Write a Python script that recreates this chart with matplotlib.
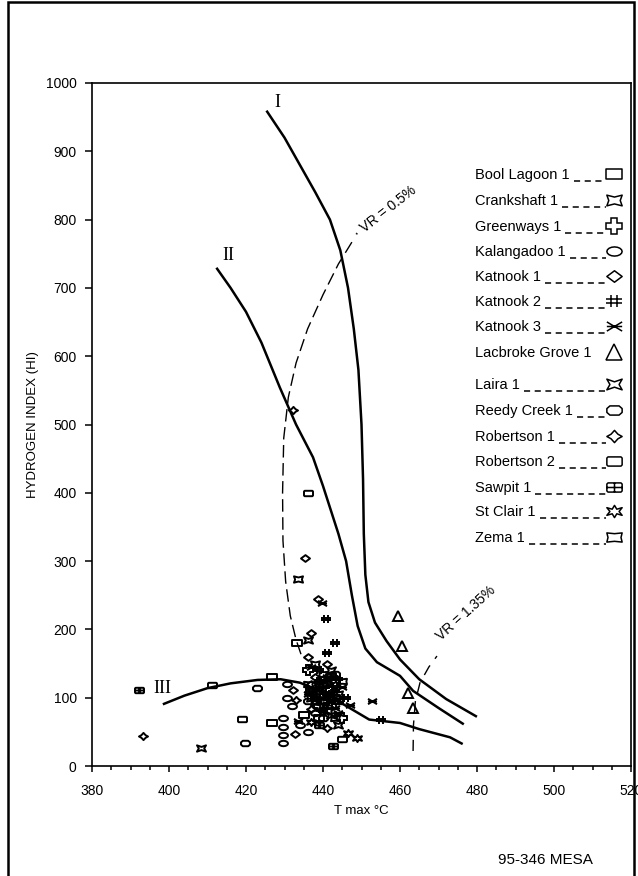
import math
import matplotlib.pyplot as plt
from matplotlib.path import Path
from matplotlib.patches import Rectangle
from matplotlib.lines import Line2D
from matplotlib.ticker import MultipleLocator

plt.rcParams['font.family'] = ['Liberation Sans', 'DejaVu Sans']

# ---- well data (T max degC, HI) ----
bool_t = [426.8, 426.8, 433.2, 437.0, 440.0, 442.0, 435.0, 441.0, 443.0, 439.0]
bool_hi = [130, 63, 180, 110, 95, 130, 75, 112, 100, 70]
crank_t = [433.5, 438.0, 441.0, 444.0, 440.0, 437.0]
crank_hi = [274, 150, 122, 105, 128, 100]
green_t = [436.0, 439.0, 442.0, 445.0, 443.0]
green_hi = [140, 88, 112, 70, 125]
kalan_t = [429.6, 429.6, 429.6, 429.6, 430.6, 430.6, 432.0, 434.0, 436.0, 438.0]
kalan_hi = [70, 57, 45, 34, 120, 100, 88, 60, 50, 78]
kat1_t = [432.2, 432.7, 435.3, 438.7, 437.0, 436.0, 441.0, 443.0, 438.0, 440.0, 442.0, 437.0]
kat1_hi = [111, 47, 305, 245, 195, 160, 150, 118, 130, 118, 100, 120]
kat2_t = [455.0, 440.8, 443.0, 441.0, 439.0, 444.0, 446.0, 437.0, 439.0, 441.0, 442.0,
          440.0, 443.0, 438.0]
kat2_hi = [67, 215, 180, 165, 140, 128, 100, 110, 125, 105, 95, 80, 110, 100]
kat3_t = [433.5, 439.7, 452.7, 437.0, 440.0, 443.0, 445.0, 447.0, 441.0, 439.0, 444.0, 436.0]
kat3_hi = [66, 239, 95, 145, 100, 85, 115, 90, 130, 115, 78, 105]
ladb_t = [459.5, 460.5, 462.0, 463.4]
ladb_hi = [220, 176, 107, 85]
laira_t = [408.3, 436.0, 439.0, 442.0, 444.0, 440.0, 442.0]
laira_hi = [26, 185, 120, 75, 60, 90, 140]
reedy_t = [419.7, 422.9, 436.0, 440.0, 443.0]
reedy_hi = [34, 114, 95, 70, 135]
rob1_t = [393.2, 432.2, 433.0, 437.0, 441.0]
rob1_hi = [44, 521, 97, 84, 55]
rob2_t = [411.2, 419.0, 436.1, 438.0, 442.0, 445.0, 440.0]
rob2_hi = [119, 69, 399, 105, 90, 40, 118]
sawpit_t = [392.2, 442.6, 439.0, 444.0, 441.0]
sawpit_hi = [111, 29, 60, 95, 90]
stclair_t = [446.5, 448.8, 437.0, 441.0, 439.0]
stclair_hi = [48, 41, 65, 100, 108]
zema_t = [436.0, 440.0, 443.0, 445.0, 438.0, 441.0]
zema_hi = [120, 135, 70, 125, 93, 80]

# ---- kerogen type curves and vitrinite reflectance lines ----
c1_t = [425.5, 430, 434, 438, 441.8, 444.5, 446.5, 448, 449.2, 450, 450.4, 450.6,
        451, 451.8, 453.5, 456.5, 460, 465, 472, 479.7]
c1_hi = [958, 920, 880, 840, 800, 755, 700, 640, 580, 500, 420, 340,
         280, 240, 210, 183, 156, 127, 98, 73]
c2_t = [412.5, 416, 420, 424, 428.8, 433, 437.4, 440, 442, 444, 446,
        447.5, 449, 451, 454, 460, 463.4, 470, 476.3]
c2_hi = [728, 700, 665, 620, 554, 500, 452, 410, 375, 340, 300,
         250, 205, 172, 152, 132, 110, 85, 62]
c3_t = [398.7, 404, 410, 416, 423, 429, 434, 440, 446, 452, 460, 465, 473, 476]
c3_hi = [91, 103, 114, 121, 126, 127, 122, 108, 88, 68, 63, 54, 42, 33]
vr05_t = [447.5, 444, 440, 436, 433, 431, 429.8, 429.5, 429.6, 430.3, 431.5, 433, 434.5]
vr05_hi = [767, 735, 690, 640, 590, 540, 480, 400, 330, 270, 220, 185, 160]
vr135_t = [463.4, 463.5, 464, 465.2, 467.5, 469.6]
vr135_hi = [22, 60, 95, 122, 145, 161]

names = ['Bool Lagoon 1', 'Crankshaft 1', 'Greenways 1', 'Kalangadoo 1', 'Katnook 1',
         'Katnook 2', 'Katnook 3', 'Lacbroke Grove 1', 'Laira 1', 'Reedy Creek 1',
         'Robertson 1', 'Robertson 2', 'Sawpit 1', 'St Clair 1', 'Zema 1']
legend_y = [175, 201, 227, 252, 277, 302, 327, 353, 385, 411, 437, 462, 488, 512, 538]


def closed(pts):
    return Path(pts + [pts[0]], [Path.MOVETO] + [Path.LINETO] * (len(pts) - 1) + [Path.CLOSEPOLY])


def segs(lines):
    v, c = [], []
    for ln in lines:
        v += ln
        c += [Path.MOVETO] + [Path.LINETO] * (len(ln) - 1)
    return Path(v, c)


rrect = [(-1, .45), (-.85, .6), (.85, .6), (1, .45), (1, -.45), (.85, -.6), (-.85, -.6), (-1, -.45)]
ellipse = [(math.cos(a / 16 * 2 * math.pi), 0.6 * math.sin(a / 16 * 2 * math.pi)) for a in range(16)]

markers = [
    closed([(-1, -.7), (1, -.7), (1, .7), (-1, .7)]),
    closed([(-1, .7), (0, .45), (1, .7), (.75, 0), (1, -.7), (0, -.45), (-1, -.7), (-.75, 0)]),
    'P',
    closed(ellipse),
    closed([(0, .75), (1, 0), (0, -.75), (-1, 0)]),
    segs([[(-1, .3), (1, .3)], [(-1, -.3), (1, -.3)], [(-.35, .8), (-.35, -.8)], [(.35, .8), (.35, -.8)]]),
    segs([[(-1, .6), (1, -.6)], [(-1, -.6), (1, .6)], [(-1, 0), (1, 0)]]),
    '^',
    closed([(-1, .7), (0, .35), (1, .7), (.6, 0), (1, -.7), (0, -.35), (-1, -.7), (-.6, 0)]),
    closed([(-1, .25), (-.6, .6), (.6, .6), (1, .25), (1, -.25), (.6, -.6), (-.6, -.6), (-1, -.25)]),
    closed([(0, .8), (.45, .3), (1, 0), (.45, -.3), (0, -.8), (-.45, -.3), (-1, 0), (-.45, .3)]),
    closed(rrect),
    Path(rrect + [rrect[0], (0, .6), (0, -.6), (-1, 0), (1, 0)],
         [Path.MOVETO] + [Path.LINETO] * 7 + [Path.CLOSEPOLY, Path.MOVETO, Path.LINETO, Path.MOVETO, Path.LINETO]),
    closed([(0, .8), (.3, .3), (1, .5), (.6, 0), (1, -.5), (.3, -.3), (0, -.8), (-.3, -.3), (-1, -.5), (-.6, 0), (-1, .5), (-.3, .3)]),
    closed([(-1, .6), (0, .5), (1, .6), (.85, 0), (1, -.6), (0, -.5), (-1, -.6), (-.85, 0)]),
]

series = [(bool_t, bool_hi), (crank_t, crank_hi), (green_t, green_hi), (kalan_t, kalan_hi),
          (kat1_t, kat1_hi), (kat2_t, kat2_hi), (kat3_t, kat3_hi), (ladb_t, ladb_hi),
          (laira_t, laira_hi), (reedy_t, reedy_hi), (rob1_t, rob1_hi), (rob2_t, rob2_hi),
          (sawpit_t, sawpit_hi), (stclair_t, stclair_hi), (zema_t, zema_hi)]

W, H = 638, 876
fig = plt.figure(figsize=(W / 100, H / 100), dpi=100)
ax = fig.add_axes([92 / W, 1 - 766 / H, (631 - 92) / W, (766 - 83) / H])

for (t, hi), m in zip(series, markers):
    ax.plot(t, hi, ls='none', marker=m, ms=6.5, mfc='none', mec='black', mew=1.4)

ax.plot(c1_t, c1_hi, color='black', lw=1.8)
ax.plot(c2_t, c2_hi, color='black', lw=1.8)
ax.plot(c3_t, c3_hi, color='black', lw=1.8)
ax.plot(vr05_t, vr05_hi, color='black', lw=1.0, ls=(0, (9, 4)))
ax.plot(vr135_t, vr135_hi, color='black', lw=1.0, ls=(0, (8, 6)))

ax.text(428.2, 972, 'I', family='Liberation Serif', fontsize=13, ha='center', va='center')
ax.text(415.5, 748, 'II', family='Liberation Serif', fontsize=13, ha='center', va='center')
ax.text(398.2, 113, 'III', family='Liberation Serif', fontsize=13, ha='center', va='center')
ax.text(449.5, 770, '· VR = 0.5%', fontsize=10, rotation=38, rotation_mode='anchor',
        ha='left', va='bottom')
ax.text(471.3, 180, 'VR = 1.35%', fontsize=10, rotation=42, rotation_mode='anchor',
        ha='left', va='bottom')

ax.set_xlim(380, 520)
ax.set_ylim(0, 1000)
ax.xaxis.set_major_locator(MultipleLocator(20))
ax.xaxis.set_minor_locator(MultipleLocator(5))
ax.yaxis.set_major_locator(MultipleLocator(100))
ax.tick_params(axis='x', which='major', direction='out', length=4, width=1.1, pad=9, labelsize=10)
ax.tick_params(axis='x', which='minor', direction='out', length=3, width=1.1)
ax.tick_params(axis='y', direction='out', length=5, width=1.1, pad=6, labelsize=10)
for s in ax.spines.values():
    s.set_linewidth(1.2)
ax.set_xlabel('T max °C', fontsize=9.5, labelpad=5)
ax.set_ylabel('HYDROGEN INDEX (HI)', fontsize=9.5, labelpad=5)

# hand drawn style legend: name, dashed leader, symbol
texts = []
for name, m, py in zip(names, markers, legend_y):
    texts.append(fig.text(475 / W, 1 - py / H, name, fontsize=10.5, ha='left', va='center'))
    fig.add_artist(Line2D([614 / W], [1 - (py - 1) / H], ls='none', marker=m, ms=11,
                          mfc='none', mec='black', mew=1.1, transform=fig.transFigure))

fig.canvas.draw()
r = fig.canvas.get_renderer()
for name, t in zip(names, texts):
    if name.startswith('Lacbroke'):
        continue
    bb = t.get_window_extent(r)
    fig.add_artist(Line2D([(bb.x1 + 4) / W, 606 / W], [(bb.y0 + 1) / H] * 2, color='black',
                          lw=1.1, ls=(0, (4, 3)), transform=fig.transFigure))

fig.add_artist(Rectangle((8 / W, -0.02), (634 - 8) / W, 1.02 - 2 / H, fill=False, lw=1.8,
                         edgecolor='black', transform=fig.transFigure))
fig.text(545 / W, 1 - 860 / H, '95-346 MESA', fontsize=11, ha='center', va='center')

fig.savefig('out.png', dpi=100)
